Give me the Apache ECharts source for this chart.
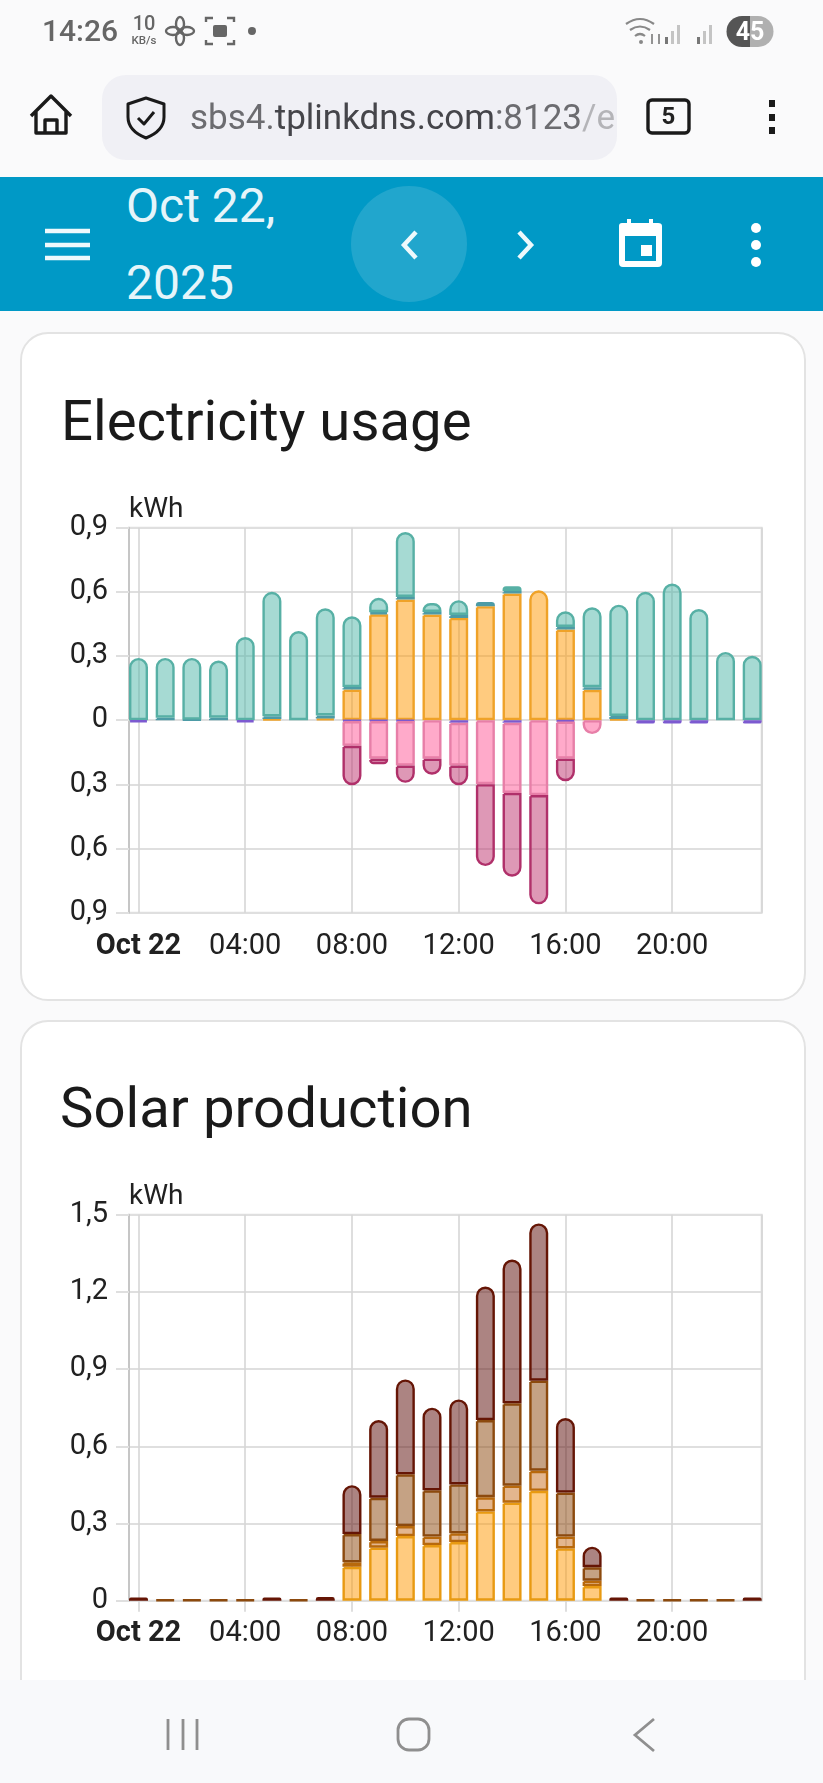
<!DOCTYPE html>
<html>
<head>
<meta charset="utf-8">
<title>Energy</title>
<script src="https://cdn.jsdelivr.net/npm/echarts@6/dist/echarts.min.js"></script>
<style>
  html, body { margin: 0; padding: 0; width: 823px; height: 1783px; overflow: hidden; background: #fafafb; font-family: Roboto, sans-serif; }
  .abs { position: absolute; white-space: nowrap; }
  .card { position: absolute; left: 20px; width: 782px; background: #fff; border: 2px solid #e3e3e3; border-radius: 28px; box-sizing: content-box; }
  .title { font-size: 56.3px; line-height: 60px; color: #1a1a1a; }
  #band { position: absolute; left: 0; top: 177px; width: 823px; height: 134px; background: #0099c6; }
  #pill { position: absolute; left: 102px; top: 75px; width: 515px; height: 85px; background: #f0f0f5; border-radius: 24px; }
  #nav { position: absolute; left: 0; top: 1680px; width: 823px; height: 103px; background: #f8f9fb; }
  #main { position: absolute; left: 0; top: 0; width: 823px; height: 1783px; }
  #icons { position: absolute; left: 0; top: 0; }
</style>
</head>
<body>
<div class="card" style="top:332px;height:665px"></div>
<div class="card" style="top:1020px;height:740px"></div>
<div class="abs title" style="left:61px;top:391px">Electricity usage</div>
<div class="abs title" style="left:60px;top:1078px">Solar production</div>
<div id="main"></div>

<div id="band"></div>
<div id="pill"></div>
<div id="nav"></div>

<div class="abs" style="left:42px;top:15px;font-size:30px;line-height:32px;font-weight:500;color:#666">14:26</div>
<div class="abs" style="left:131px;top:13px;width:26px;text-align:center;font-size:20px;line-height:20px;font-weight:500;color:#666">10</div>
<div class="abs" style="left:126px;top:34px;width:36px;text-align:center;font-size:11.5px;line-height:12px;font-weight:500;color:#666">KB/s</div>
<div class="abs" style="left:190px;top:98px;width:424px;overflow:hidden;font-size:35px;line-height:40px;color:#6c6c70">sbs4.<span style="color:#45454a">tplinkdns.com</span>:8123<span style="color:#b4b4b8">/e</span></div>
<div class="abs" style="left:647px;top:99px;width:43px;text-align:center;font-size:24px;line-height:34px;font-weight:700;color:#222">5</div>
<div class="abs" style="left:126px;top:180px;font-size:48px;line-height:52px;color:#e6f5fa">Oct 22,</div>
<div class="abs" style="left:126px;top:257px;font-size:48px;line-height:52px;color:#e6f5fa">2025</div>
<div class="abs" style="left:726px;top:16px;width:48px;text-align:center;font-size:25px;line-height:31px;font-weight:700;color:#fff;z-index:3">45</div>

<svg id="icons" width="823" height="1783" fill="none">
  <!-- status bar -->
  <g stroke="#666" stroke-width="2.4">
    <ellipse cx="180" cy="24" rx="4" ry="7"/><ellipse cx="180" cy="38" rx="4" ry="7"/>
    <ellipse cx="173" cy="31" rx="7" ry="4"/><ellipse cx="187" cy="31" rx="7" ry="4"/>
    <path d="M206 22v-4h7M227 18h7v4M206 40v4h7M227 44h7v-4"/>
  </g>
  <rect x="213" y="25" width="14" height="12" rx="2" fill="#666"/>
  <circle cx="252" cy="31" r="4" fill="#666"/>
  <g stroke="#888" stroke-width="2.2">
    <path d="M626 24q14-10 28 0M630 30q10-7 20 0M635 36q5-4 10 0"/>
  </g>
  <circle cx="641" cy="42" r="2" fill="#888"/>
  <path d="M652 44v-10M659 44v-10" stroke="#888" stroke-width="1.8"/>
  <g fill="#777"><rect x="665" y="37" width="3" height="7"/><rect x="697" y="37" width="3" height="7"/></g>
  <g fill="#c4c4c4">
    <rect x="671" y="31" width="3" height="13"/><rect x="677" y="25" width="3" height="19"/>
    <rect x="703" y="31" width="3" height="13"/><rect x="709" y="25" width="3" height="19"/>
  </g>
  <path d="M750 16h-8a15.5 15.5 0 0 0 0 31h8z" fill="#555"/>
  <path d="M750 16h8a15.5 15.5 0 0 1 0 31h-8z" fill="#b0b0b0"/>

  <!-- browser bar -->
  <g stroke="#1a1a1a" stroke-width="3.4" stroke-linejoin="round">
    <path d="M31 116l20-20 20 20M36 112v21h30v-21"/>
    <path d="M45 133v-13h12v13"/>
    <path d="M146 98l18 6v13c0 10-8 17-18 21-10-4-18-11-18-21v-13z" stroke-width="3"/>
    <path d="M138 118l6 6 10-12" stroke-width="3"/>
    <rect x="648" y="100" width="41" height="33" rx="4"/>
  </g>
  <g fill="#1a1a1a"><rect x="769" y="100" width="6" height="7"/><rect x="769" y="114" width="6" height="7"/><rect x="769" y="127" width="6" height="7"/></g>

  <!-- app toolbar -->
  <circle cx="409" cy="244" r="58" fill="#fff" fill-opacity="0.13"/>
  <g stroke="#eef9fc" stroke-width="4.5">
    <path d="M45 231h45M45 245h45M45 258h45"/>
    <path d="M416 232l-12 13 12 13M519 232l12 13-12 13" stroke-width="4.5"/>
  </g>
  <path d="M619 226q0-3 3-3h5v-4h4v4h18v-4h4v4h5q4 0 4 3v37q0 4-4 4h-35q-4 0-4-4zM625 236v25h31v-25z" fill="#fff" fill-rule="evenodd"/>
  <rect x="641" y="245" width="11" height="11" fill="#fff"/>
  <g fill="#fff"><circle cx="756" cy="228" r="5"/><circle cx="756" cy="245" r="5"/><circle cx="756" cy="262" r="5"/></g>

  <!-- system nav -->
  <g stroke="#8f8f8f" stroke-width="2.8">
    <path d="M168 1719v31M183 1719v31M197 1719v31"/>
    <rect x="398" y="1719" width="31" height="31" rx="11"/>
    <path d="M654 1719l-19 16 19 16"/>
  </g>
</svg>

<script>
  "use strict";

  const HOURS = [0, 1, 2, 3, 4, 5, 6, 7, 8, 9, 10, 11, 12, 13, 14, 15, 16, 17, 18, 19, 20, 21, 22, 23];

  // Electricity usage, kWh per hour. Upward stack, bottom to top.
  const usedSolar = [0, 0, 0, 0, 0, 0.006, 0, 0.008, 0.143, 0.495, 0.564, 0.494, 0.478, 0.533, 0.592, 0.607, 0.424, 0.142, 0.006, 0, 0, 0, 0, 0];
  const usedBattery = [0, 0.012, 0.003, 0.012, 0, 0.012, 0, 0.014, 0.012, 0.01, 0.012, 0.012, 0.014, 0.02, 0.012, 0, 0.012, 0.012, 0.014, 0, 0, 0, 0, 0];
  const usedGrid = [0.291, 0.279, 0.288, 0.267, 0.389, 0.582, 0.417, 0.501, 0.331, 0.067, 0.304, 0.042, 0.069, 0, 0.022, 0, 0.073, 0.374, 0.52, 0.6, 0.639, 0.52, 0.319, 0.301];
  // Downward stack, top to bottom.
  const toBattery = [-0.01, 0, 0, 0, -0.01, 0, 0, 0, -0.004, -0.004, -0.004, 0, -0.012, 0, -0.012, 0, -0.006, 0, 0, -0.016, -0.016, -0.016, 0, -0.016];
  const solarToBattery = [0, 0, 0, 0, 0, 0, 0, 0, -0.116, -0.176, -0.208, -0.18, -0.2, -0.299, -0.328, -0.35, -0.174, -0.065, 0, 0, 0, 0, 0, 0];
  const solarToGrid = [0, 0, 0, 0, 0, 0, 0, 0, -0.184, -0.026, -0.081, -0.075, -0.092, -0.383, -0.392, -0.511, -0.105, 0, 0, 0, 0, 0, 0, 0];

  // Solar production, kWh per hour. One array per inverter string, bottom to top.
  const stringA = [0, 0, 0, 0, 0, 0, 0, 0, 0.132, 0.206, 0.251, 0.216, 0.228, 0.347, 0.381, 0.427, 0.203, 0.057, 0, 0, 0, 0, 0, 0];
  const stringB = [0, 0, 0, 0, 0, 0, 0, 0, 0.017, 0.026, 0.039, 0.033, 0.034, 0.055, 0.066, 0.078, 0.046, 0.021, 0, 0, 0, 0, 0, 0];
  const stringC = [0, 0.004, 0.004, 0.004, 0.004, 0, 0.004, 0, 0.11, 0.168, 0.201, 0.18, 0.19, 0.3, 0.32, 0.35, 0.171, 0.052, 0, 0.004, 0.004, 0.004, 0.004, 0];
  const stringD = [0.012, 0, 0, 0, 0, 0.012, 0, 0.014, 0.19, 0.302, 0.369, 0.321, 0.33, 0.519, 0.559, 0.611, 0.29, 0.08, 0.012, 0, 0, 0, 0, 0.012];

  const GRID_LINE = "#dfdfdf";
  const V_LINE = "#d6d6d6";
  const AXIS_LINE = "#c6c6c6";
  const TEXT = "#212121";
  const RADIUS = 10;
  const BORDER = 2.4;

  // Time axis: stacking needs a category or time base axis, a plain value axis does not stack.
  const DAY = Date.UTC(2025, 9, 22);
  const HOUR_MS = 3600000;
  const hourTs = (h) => DAY + h * HOUR_MS;

  // Rounds only the outermost non-empty segment of each stack.
  function stackSeries(layers, dir, gridIndex) {
    return layers.map((layer, li) => ({
      name: layer.name,
      type: "bar",
      stack: "s" + gridIndex,
      xAxisIndex: gridIndex,
      yAxisIndex: gridIndex,
      barWidth: 19,
      clip: false,
      itemStyle: { color: layer.fill, borderColor: layer.line, borderWidth: BORDER },
      data: HOURS.map((h, i) => {
        const outer = !layers.slice(li + 1).some((l) => l.data[i]);
        const r = outer ? RADIUS : 0;
        return {
          value: [hourTs(h), layer.data[i]],
          itemStyle: {
            borderRadius: dir > 0 ? [r, r, 0, 0] : [0, 0, r, r],
            borderWidth: layer.data[i] ? BORDER : 0,
          },
        };
      }),
    }));
  }

  function xAxis(gridIndex, showTick) {
    return {
      // ECharts widens this range by half a bar on each side, so the axis ends up
      // running from about -0.35h to 23.35h.
      type: "time", gridIndex, min: hourTs(0), max: hourTs(23),
      minInterval: 4 * HOUR_MS, maxInterval: 4 * HOUR_MS,
      axisLine: { show: false, onZero: false },
      axisTick: { show: showTick, length: 11, lineStyle: { color: V_LINE, width: 1.6 } },
      splitLine: { show: true, lineStyle: { color: V_LINE, width: 1.6 } },
      axisLabel: {
        color: TEXT, fontSize: 29, fontFamily: "Roboto",
        margin: showTick ? 19 : 20,
        hideOverlap: false,
        formatter: (v) => {
          const h = (v - DAY) / HOUR_MS;
          if (h % 4 !== 0) return "";
          return h === 0 ? "{d|Oct 22}" : String(h).padStart(2, "0") + ":00";
        },
        rich: { d: { fontWeight: 700, fontSize: 29, fontFamily: "Roboto", color: TEXT } },
      },
    };
  }

  function yAxis(gridIndex, min, max) {
    return {
      type: "value", gridIndex, min, max, interval: 0.3,
      name: "kWh",
      nameGap: 4,
      nameTextStyle: { color: TEXT, fontSize: 28, fontFamily: "Roboto", align: "left" },
      axisLine: { show: true, onZero: false, lineStyle: { color: AXIS_LINE, width: 2 } },
      axisTick: { show: true, length: 13, lineStyle: { color: GRID_LINE, width: 2 } },
      splitLine: { show: true, lineStyle: { color: GRID_LINE, width: 2 } },
      axisLabel: {
        color: TEXT, fontSize: 29, fontFamily: "Roboto", margin: 21, padding: [3, 0, 0, 0],
        formatter: (v) => (Math.abs(v) < 1e-6 ? "0" : Math.abs(v).toFixed(1).replace(".", ",")),
      },
    };
  }

  const usageUp = [
    { name: "Solar", data: usedSolar, fill: "rgba(255,152,0,0.5)", line: "#efa228" },
    { name: "Battery", data: usedBattery, fill: "rgba(60,140,160,0.75)", line: "#4d9ba6" },
    { name: "Grid", data: usedGrid, fill: "rgba(77,182,168,0.5)", line: "#57b0a5" },
  ];
  const usageDown = [
    { name: "To battery from grid", data: toBattery, fill: "rgba(120,80,210,0.85)", line: "#7c5ad0" },
    { name: "To battery", data: solarToBattery, fill: "rgba(255,85,150,0.5)", line: "#e77fa8" },
    { name: "To grid", data: solarToGrid, fill: "rgba(190,50,110,0.5)", line: "#b0306a" },
  ];
  const solarUp = [
    { name: "String A", data: stringA, fill: "rgba(255,152,0,0.5)", line: "#e89a12" },
    { name: "String B", data: stringB, fill: "rgba(200,110,30,0.5)", line: "#b8690c" },
    { name: "String C", data: stringC, fill: "rgba(139,70,10,0.5)", line: "#8c4a0e" },
    { name: "String D", data: stringD, fill: "rgba(90,10,5,0.5)", line: "#651505" },
  ];

  const chart = echarts.init(document.getElementById("main"), null, { renderer: "canvas" });
  chart.setOption({
    animation: false,
    backgroundColor: "transparent",
    useUTC: true,
    tooltip: { show: false },
    grid: [
      { left: 129, top: 527.7, width: 632.7, height: 385, show: true, borderColor: GRID_LINE, borderWidth: 2 },
      { left: 129, top: 1214.7, width: 632.7, height: 386, show: true, borderColor: GRID_LINE, borderWidth: 2 },
    ],
    xAxis: [xAxis(0, false), xAxis(1, true)],
    yAxis: [yAxis(0, -0.9, 0.9), yAxis(1, 0, 1.5)],
    series: [
      ...stackSeries(usageUp, 1, 0),
      ...stackSeries(usageDown, -1, 0),
      ...stackSeries(solarUp, 1, 1),
    ],
  });
  window.addEventListener("resize", () => chart.resize());
</script>
</body>
</html>
